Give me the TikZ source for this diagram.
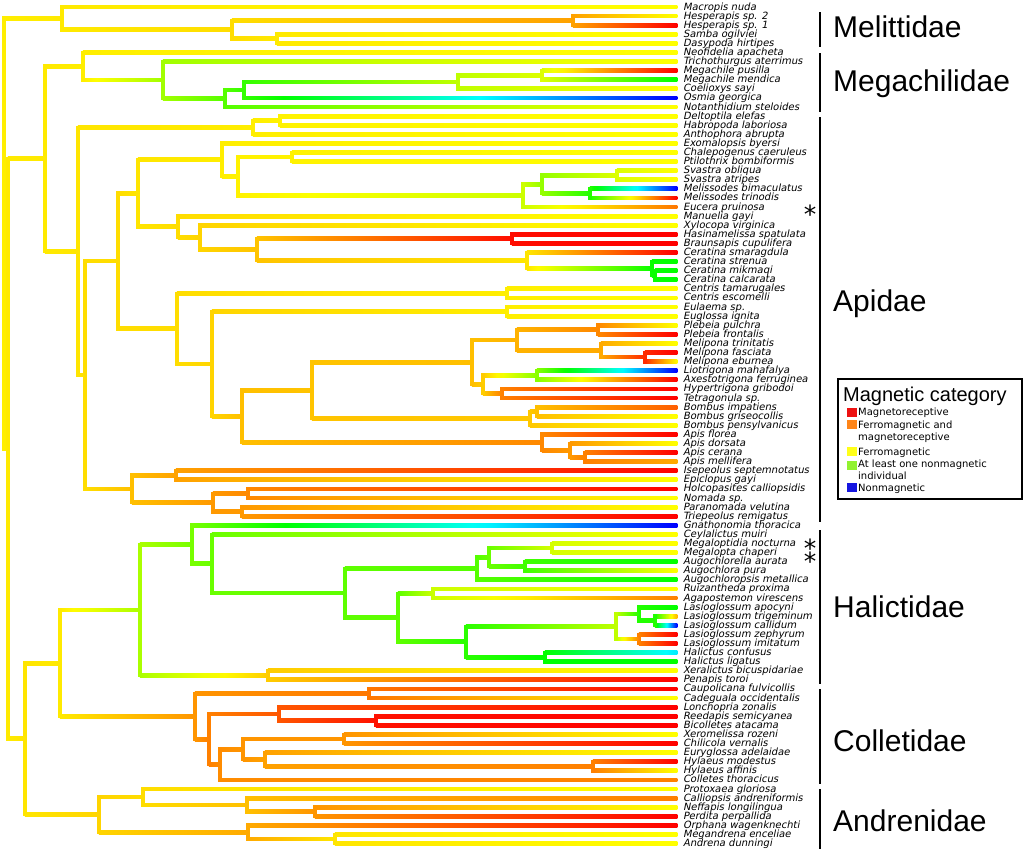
\documentclass[tikz,border=0pt]{standalone}
\usepackage{fontspec}
\setmainfont{DejaVu Sans}
\newfontfamily\famfont{Liberation Sans}
\newfontfamily\labfont[FakeSlant=0.2]{DejaVu Sans}
\newcommand\setv[3]{\expandafter\xdef\csname bt-#1-#2\endcsname{#3}}
\newcommand\getv[2]{\csname bt-#1-#2\endcsname}
\newcommand\lw{1.9}
\newcommand\br[5]{%
  \pgfmathsetmacro\brdh{(#5)-(#4)}%
  \pgfmathtruncatemacro\brn{max(1,ceil(abs(\brdh)/12))}%
  \foreach \k in {1,...,\brn}{%
    \pgfmathsetmacro\ha{#4+(\k-1)*\brdh/\brn}%
    \pgfmathsetmacro\hb{#4+\k*\brdh/\brn}%
    \pgfmathsetmacro\xa{#1+(#2-#1)*(\k-1)/\brn}%
    \pgfmathsetmacro\xb{#1+(#2-#1)*\k/\brn}%
    \definecolor{cA}{Hsb}{\ha,1,1}%
    \definecolor{cB}{Hsb}{\hb,1,1}%
    \shade[left color=cA,right color=cB] (\xa-0.25,#3-\lw) rectangle (\xb+0.25,#3+\lw);
  }%
}
\newcommand\tip[4]{%
  \pgfmathsetmacro\tpy{7+(#2-1)*9.093}%
  \setv{X}{#1}{677}\setv{Y}{#1}{\tpy}\setv{H}{#1}{#3}%
  \coordinate (#1) at (677,\tpy);%
  \node[lab] (l#1) at (683,\tpy+3) {#4};%
}
\newcommand\nd[5]{%
  \edef\ndxa{\getv{X}{#4}}\edef\ndya{\getv{Y}{#4}}\edef\ndha{\getv{H}{#4}}%
  \edef\ndxb{\getv{X}{#5}}\edef\ndyb{\getv{Y}{#5}}\edef\ndhb{\getv{H}{#5}}%
  \pgfmathsetmacro\ndy{(\ndya+\ndyb)/2}%
  \setv{X}{#1}{#2}\setv{Y}{#1}{\ndy}\setv{H}{#1}{#3}%
  \coordinate (#1) at (#2,\ndy);%
  \br{#2}{\ndxa}{\ndya}{#3}{\ndha}%
  \br{#2}{\ndxb}{\ndyb}{#3}{\ndhb}%
  \definecolor{cV}{Hsb}{#3,1,1}%
  \fill[cV] (#2-\lw,\ndya-\lw) rectangle (#2+\lw,\ndyb+\lw);%
}
\tikzset{
  lab/.style={anchor=base west,inner sep=0pt,font=\labfont\fontsize{10}{10}\selectfont},
  fam/.style={anchor=west,inner sep=0pt,font=\famfont\fontsize{30}{30}\selectfont},
  bar/.style={line width=1.4pt,black},
  star/.style={inner sep=0pt,font=\fontsize{25}{25}\selectfont},
  legtxt/.style={anchor=base west,inner sep=0pt,font=\fontsize{10}{10}\selectfont},
}
\begin{document}
\begin{tikzpicture}[x=1pt,y=-1pt]
\useasboundingbox (0,0) rectangle (1024,854);
% tips
\tip{t1}{1}{60}{Macropis nuda}
\tip{t2}{2}{60}{Hesperapis sp. 2}
\tip{t3}{3}{0}{Hesperapis sp. 1}
\tip{t4}{4}{60}{Samba ogilviei}
\tip{t5}{5}{60}{Dasypoda hirtipes}
\tip{t6}{6}{60}{Neofidelia apacheta}
\tip{t7}{7}{60}{Trichothurgus aterrimus}
\tip{t8}{8}{0}{Megachile pusilla}
\tip{t9}{9}{120}{Megachile mendica}
\tip{t10}{10}{60}{Coelioxys sayi}
\tip{t11}{11}{240}{Osmia georgica}
\tip{t12}{12}{60}{Notanthidium steloides}
\tip{t13}{13}{60}{Deltoptila elefas}
\tip{t14}{14}{60}{Habropoda laboriosa}
\tip{t15}{15}{60}{Anthophora abrupta}
\tip{t16}{16}{60}{Exomalopsis byersi}
\tip{t17}{17}{60}{Chalepogenus caeruleus}
\tip{t18}{18}{60}{Ptilothrix bombiformis}
\tip{t19}{19}{60}{Svastra obliqua}
\tip{t20}{20}{60}{Svastra atripes}
\tip{t21}{21}{240}{Melissodes bimaculatus}
\tip{t22}{22}{0}{Melissodes trinodis}
\tip{t23}{23}{28}{Eucera pruinosa}
\tip{t24}{24}{60}{Manuelia gayi}
\tip{t25}{25}{60}{Xylocopa virginica}
\tip{t26}{26}{0}{Hasinamelissa spatulata}
\tip{t27}{27}{0}{Braunsapis cupulifera}
\tip{t28}{28}{0}{Ceratina smaragdula}
\tip{t29}{29}{120}{Ceratina strenua}
\tip{t30}{30}{120}{Ceratina mikmaqi}
\tip{t31}{31}{120}{Ceratina calcarata}
\tip{t32}{32}{60}{Centris tamarugales}
\tip{t33}{33}{60}{Centris escomelli}
\tip{t34}{34}{60}{Eulaema sp.}
\tip{t35}{35}{60}{Euglossa ignita}
\tip{t36}{36}{60}{Plebeia pulchra}
\tip{t37}{37}{0}{Plebeia frontalis}
\tip{t38}{38}{60}{Melipona trinitatis}
\tip{t39}{39}{0}{Melipona fasciata}
\tip{t40}{40}{60}{Melipona eburnea}
\tip{t41}{41}{240}{Liotrigona mahafalya}
\tip{t42}{42}{0}{Axestotrigona ferruginea}
\tip{t43}{43}{0}{Hypertrigona gribodoi}
\tip{t44}{44}{0}{Tetragonula sp.}
\tip{t45}{45}{22}{Bombus impatiens}
\tip{t46}{46}{60}{Bombus griseocollis}
\tip{t47}{47}{60}{Bombus pensylvanicus}
\tip{t48}{48}{0}{Apis florea}
\tip{t49}{49}{60}{Apis dorsata}
\tip{t50}{50}{0}{Apis cerana}
\tip{t51}{51}{40}{Apis mellifera}
\tip{t52}{52}{0}{Isepeolus septemnotatus}
\tip{t53}{53}{60}{Epiclopus gayi}
\tip{t54}{54}{0}{Holcopasites calliopsidis}
\tip{t55}{55}{60}{Nomada sp.}
\tip{t56}{56}{60}{Paranomada velutina}
\tip{t57}{57}{0}{Triepeolus remigatus}
\tip{t58}{58}{240}{Gnathonomia thoracica}
\tip{t59}{59}{60}{Ceylalictus muiri}
\tip{t60}{60}{60}{Megaloptidia nocturna}
\tip{t61}{61}{60}{Megalopta chaperi}
\tip{t62}{62}{120}{Augochlorella aurata}
\tip{t63}{63}{60}{Augochlora pura}
\tip{t64}{64}{120}{Augochloropsis metallica}
\tip{t65}{65}{60}{Ruizantheda proxima}
\tip{t66}{66}{30}{Agapostemon virescens}
\tip{t67}{67}{120}{Lasioglossum apocyni}
\tip{t68}{68}{42}{Lasioglossum trigeminum}
\tip{t69}{69}{240}{Lasioglossum callidum}
\tip{t70}{70}{0}{Lasioglossum zephyrum}
\tip{t71}{71}{0}{Lasioglossum imitatum}
\tip{t72}{72}{185}{Halictus confusus}
\tip{t73}{73}{120}{Halictus ligatus}
\tip{t74}{74}{60}{Xeralictus bicuspidariae}
\tip{t75}{75}{0}{Penapis toroi}
\tip{t76}{76}{0}{Caupolicana fulvicollis}
\tip{t77}{77}{60}{Cadeguala occidentalis}
\tip{t78}{78}{0}{Lonchopria zonalis}
\tip{t79}{79}{0}{Reedapis semicyanea}
\tip{t80}{80}{0}{Bicolletes atacama}
\tip{t81}{81}{60}{Xeromelissa rozeni}
\tip{t82}{82}{0}{Chilicola vernalis}
\tip{t83}{83}{60}{Euryglossa adelaidae}
\tip{t84}{84}{0}{Hylaeus modestus}
\tip{t85}{85}{60}{Hylaeus affinis}
\tip{t86}{86}{30}{Colletes thoracicus}
\tip{t87}{87}{60}{Protoxaea gloriosa}
\tip{t88}{88}{30}{Calliopsis andreniformis}
\tip{t89}{89}{60}{Neffapis longilingua}
\tip{t90}{90}{0}{Perdita perpallida}
\tip{t91}{91}{0}{Orphana wagenknechti}
\tip{t92}{92}{60}{Megandrena enceliae}
\tip{t93}{93}{60}{Andrena dunningi}
% Melittidae
\nd{M2}{573}{38}{t2}{t3}
\nd{M3}{277}{55}{t4}{t5}
\nd{M1}{232}{52}{M2}{M3}
\nd{M0}{62}{55}{t1}{M1}
% Megachilidae
\nd{MG5}{542}{68}{t8}{t9}
\nd{MG4}{458}{75}{MG5}{t10}
\nd{MG3}{244}{108}{MG4}{t11}
\nd{MG2}{225}{100}{MG3}{t12}
\nd{MG1}{163}{82}{t7}{MG2}
\nd{MG0}{83}{56}{t6}{MG1}
% Apidae
\nd{D2}{280}{57}{t13}{t14}
\nd{D1}{253}{56}{D2}{t15}
\nd{CP}{292}{57}{t17}{t18}
\nd{S2}{617}{68}{t19}{t20}
\nd{S3}{590}{112}{t21}{t22}
\nd{S1}{542}{85}{S2}{S3}
\nd{S0}{523}{72}{S1}{t23}
\nd{Hx}{238}{57}{CP}{S0}
\nd{G}{222}{56}{t16}{Hx}
\nd{K1}{512}{3}{t26}{t27}
\nd{K4}{655}{118}{t30}{t31}
\nd{K3}{652}{118}{t29}{K4}
\nd{K2}{527}{54}{t28}{K3}
\nd{K}{257}{46}{K1}{K2}
\nd{J}{200}{50}{t25}{K}
\nd{I}{178}{52}{t24}{J}
\nd{F}{138}{54}{G}{I}
\nd{CE}{507}{56}{t32}{t33}
\nd{EU}{507}{56}{t34}{t35}
\nd{Q3}{598}{32}{t36}{t37}
\nd{Q5}{645}{10}{t39}{t40}
\nd{Q4}{601}{40}{t38}{Q5}
\nd{Q1}{517}{42}{Q3}{Q4}
\nd{Q6}{537}{88}{t41}{t42}
\nd{Q7}{502}{30}{t43}{t44}
\nd{Q2}{483}{48}{Q6}{Q7}
\nd{Q}{472}{45}{Q1}{Q2}
\nd{Ra}{537}{45}{t45}{t46}
\nd{Rb}{530}{47}{Ra}{t47}
\nd{O}{312}{46}{Q}{Rb}
\nd{P2}{585}{30}{t50}{t51}
\nd{P1}{570}{36}{t49}{P2}
\nd{P}{542}{32}{t48}{P1}
\nd{N}{242}{45}{O}{P}
\nd{Mn}{212}{50}{EU}{N}
\nd{L}{177}{52}{CE}{Mn}
\nd{E}{118}{52}{F}{L}
\nd{T1}{176}{38}{t52}{t53}
\nd{T3}{248}{32}{t54}{t55}
\nd{T4}{242}{36}{t56}{t57}
\nd{T2}{213}{36}{T3}{T4}
\nd{T}{132}{45}{T1}{T2}
\nd{A3}{85}{52}{E}{T}
\nd{A2}{78}{54}{D1}{A3}
\nd{A}{45}{55}{MG0}{A2}
% Halictidae
\nd{H7}{552}{70}{t60}{t61}
\nd{H8}{525}{105}{t62}{t63}
\nd{H6}{489}{95}{H7}{H8}
\nd{H4}{477}{100}{H6}{t64}
\nd{H9}{433}{72}{t65}{t66}
\nd{H15}{655}{112}{t68}{t69}
\nd{H13}{639}{112}{t67}{H15}
\nd{H14}{639}{30}{t70}{t71}
\nd{H11}{616}{75}{H13}{H14}
\nd{H12}{545}{120}{t72}{t73}
\nd{H10}{466}{110}{H11}{H12}
\nd{H5}{398}{98}{H9}{H10}
\nd{H3}{345}{98}{H4}{H5}
\nd{H2}{212}{95}{t59}{H3}
\nd{H1}{192}{92}{t58}{H2}
\nd{XP}{268}{48}{t74}{t75}
\nd{H0}{140}{80}{H1}{XP}
% Colletidae
\nd{C1}{369}{28}{t76}{t77}
\nd{C5}{376}{4}{t79}{t80}
\nd{C3}{279}{20}{t78}{C5}
\nd{C7}{344}{35}{t81}{t82}
\nd{C9}{593}{30}{t84}{t85}
\nd{C8}{265}{38}{t83}{C9}
\nd{C6}{243}{35}{C7}{C8}
\nd{C4}{220}{33}{C6}{t86}
\nd{C2}{209}{30}{C3}{C4}
\nd{C0}{195}{35}{C1}{C2}
\nd{HC}{60}{55}{H0}{C0}
% Andrenidae
\nd{AN4}{315}{35}{t89}{t90}
\nd{AN3}{247}{45}{t88}{AN4}
\nd{AN1}{143}{52}{t87}{AN3}
\nd{AN5}{335}{54}{t92}{t93}
\nd{AN2}{248}{40}{t91}{AN5}
\nd{AN0}{99}{50}{AN1}{AN2}
% backbone
\nd{B}{25}{54}{HC}{AN0}
\nd{R1}{8}{55}{A}{B}
\nd{R0}{4}{56}{M0}{R1}
% asterisks
\node[star] (s1) at (810,214) {*};
\node[star] (s2) at (810,548) {*};
\node[star] (s3) at (810,561) {*};
% family bars and labels
\draw[bar] (820,12) -- (820,47);
\draw[bar] (820,53) -- (820,112);
\draw[bar] (820,117) -- (820,522);
\draw[bar] (820,530) -- (820,684);
\draw[bar] (820,689) -- (820,784);
\draw[bar] (820,789) -- (820,849);
\node[fam] (fMel) at (833,27) {Melittidae};
\node[fam] (fMeg) at (833,84) {Megachilidae};
\node[fam] (fApi) at (833,304) {Apidae};
\node[fam] (fHal) at (833,607) {Halictidae};
\node[fam] (fCol) at (833,741) {Colletidae};
\node[fam] (fAnd) at (833,821) {Andrenidae};
% legend
\draw[line width=1.4pt] (838,379) rectangle (1022,499);
\node[anchor=base west,inner sep=0pt,font=\famfont\fontsize{20}{20}\selectfont] (lt) at (843,401) {Magnetic category};
\definecolor{kR}{Hsb}{0,0.93,0.93}
\definecolor{kO}{Hsb}{28,0.9,1}
\definecolor{kY}{Hsb}{60,0.9,1}
\definecolor{kG}{Hsb}{90,0.8,0.95}
\definecolor{kB}{Hsb}{240,0.9,0.88}
\fill[kR] (847,408) rectangle (857,417);
\fill[kO] (847,420) rectangle (857,429);
\fill[kY] (847,447) rectangle (857,456);
\fill[kG] (847,461) rectangle (857,470);
\fill[kB] (847,483) rectangle (857,492);
\node[legtxt] (k1) at (858,415.5) {Magnetoreceptive};
\node[legtxt] (k2) at (858,428) {Ferromagnetic and};
\node[legtxt] (k3) at (858,440.5) {magnetoreceptive};
\node[legtxt] (k4) at (858,455) {Ferromagnetic};
\node[legtxt] (k5) at (858,467.5) {At least one nonmagnetic};
\node[legtxt] (k6) at (858,479.5) {individual};
\node[legtxt] (k7) at (858,491) {Nonmagnetic};
\end{tikzpicture}
\end{document}
